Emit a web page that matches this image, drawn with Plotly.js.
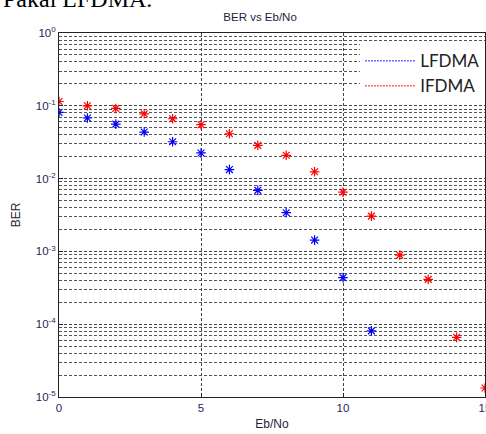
<!DOCTYPE html>
<html>
<head>
<meta charset="utf-8">
<script src="https://cdn.plot.ly/plotly-3.0.1.min.js"></script>
<style>html,body{margin:0;padding:0;background:#fff;}#chart{width:486px;height:434px;}</style>
</head>
<body>
<div id="chart"></div>
<script>
const ebno = [0,1,2,3,4,5,6,7,8,9,10,11,12,13,14,15];
const berLFDMA = [0.081,0.068,0.056,0.0436,0.0321,0.0225,0.0133,0.0069,0.0034,0.00143,0.000436,0.000081];
const berIFDMA = [0.1146,0.100,0.092,0.0777,0.0664,0.0550,0.0413,0.0286,0.0209,0.0124,0.0065,0.00305,0.00089,0.000413,0.000066,0.0000133];
const seriesNames = ['LFDMA','IFDMA'];
const yTickVals = [1e-5,1e-4,1e-3,1e-2,1e-1,1];
const yTickText = ['10<sup>-5</sup>','10<sup>-4</sup>','10<sup>-3</sup>','10<sup>-2</sup>','10<sup>-1</sup>','10<sup>0</sup>'];
const xTickVals = [0,5,10,15];
const xTickText = ['0','5','10','15'];

const minorVals = [];
for (let e = -5; e < 0; e++) for (let m = 2; m <= 9; m++) minorVals.push(m * Math.pow(10, e));

const gridDash = '3px,2px';
const tickColor = '#2b2358';

const traces = [
  {x: ebno.slice(0, berLFDMA.length), y: berLFDMA, mode: 'markers', name: seriesNames[0], showlegend: false,
   marker: {symbol: 'asterisk-open', size: 8, color: '#0000ff', line: {color: '#0000ff', width: 1.2}}},
  {x: ebno.slice(0, berIFDMA.length), y: berIFDMA, mode: 'markers', name: seriesNames[1], showlegend: false,
   marker: {symbol: 'asterisk-open', size: 8, color: '#ff0000', line: {color: '#ff0000', width: 1.2}}},
  {x: [null], y: [null], mode: 'lines', name: seriesNames[0], line: {color: '#4040ff', dash: '1.5px,1.5px', width: 1.5}},
  {x: [null], y: [null], mode: 'lines', name: seriesNames[1], line: {color: '#ff3030', dash: '1.5px,1.5px', width: 1.5}}
];

const layout = {
  width: 486, height: 434,
  margin: {l: 58.5, r: 1, t: 33, b: 37},
  paper_bgcolor: '#fff', plot_bgcolor: '#fff',
  font: {family: 'Liberation Sans, Arial, sans-serif', size: 11, color: '#222'},
  title: {text: 'BER vs Eb/No', x: 0.472, xref: 'paper', xanchor: 'center', y: 1 - 17/434, yref: 'container', yanchor: 'middle',
          font: {family: 'Liberation Sans, Arial, sans-serif', size: 11.5, color: '#1e1e3a'}},
  xaxis: {
    range: [0, 15], tickmode: 'array', tickvals: xTickVals, ticktext: xTickText,
    showgrid: true, gridcolor: '#444', griddash: gridDash, gridwidth: 1,
    zeroline: false, showline: true, linecolor: '#222', linewidth: 1, mirror: true,
    ticks: 'inside', ticklen: 4, tickcolor: '#222', ticklabeloverflow: 'allow',
    tickfont: {family: 'Liberation Sans, Arial, sans-serif', size: 11.5, color: tickColor},
    title: {text: 'Eb/No', standoff: 6, font: {family: 'Liberation Sans, Arial, sans-serif', size: 12, color: '#1e1e3a'}}
  },
  yaxis: {
    type: 'log', range: [-5, 0], tickmode: 'array', tickvals: yTickVals, ticktext: yTickText,
    showgrid: true, gridcolor: '#444', griddash: gridDash, gridwidth: 1,
    zeroline: false, showline: true, linecolor: '#222', linewidth: 1, mirror: true,
    ticks: 'inside', ticklen: 4, tickcolor: '#222',
    tickfont: {family: 'Liberation Sans, Arial, sans-serif', size: 11.5, color: tickColor},
    minor: {tickmode: 'array', tickvals: minorVals, showgrid: true, gridcolor: '#555', griddash: gridDash, gridwidth: 1, ticks: ''},
    title: {text: 'BER', standoff: 12, font: {family: 'Liberation Sans, Arial, sans-serif', size: 12, color: '#1e1e3a'}}
  },
  legend: {
    x: 0.707, y: 0.972, xanchor: 'left', yanchor: 'top',
    bgcolor: '#ffffff', borderwidth: 0, itemwidth: 50,
    font: {family: 'Lato, Open Sans, sans-serif', size: 17, color: '#222'},
    tracegroupgap: 0
  },
  annotations: [
    {text: 'Pakai LFDMA.', xref: 'paper', yref: 'paper', x: -0.137, y: 1.093, xanchor: 'left', yanchor: 'middle',
     showarrow: false, font: {family: 'Liberation Serif, Times New Roman, serif', size: 24, color: '#000'}}
  ]
};

Plotly.newPlot('chart', traces, layout, {displayModeBar: false, staticPlot: true});
</script>
</body>
</html>
